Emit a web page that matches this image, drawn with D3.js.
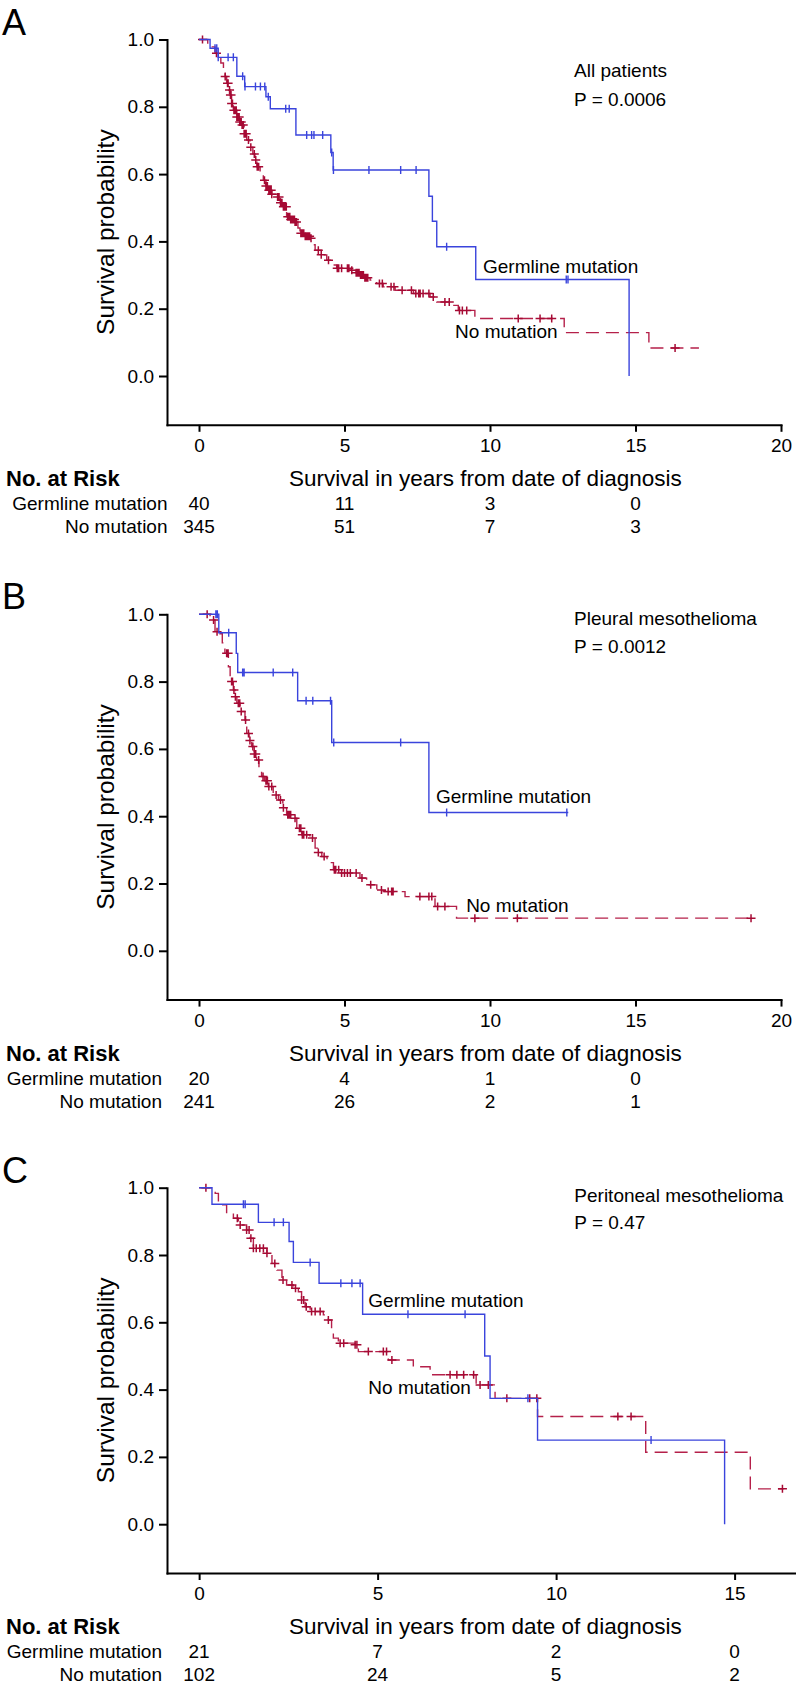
<!DOCTYPE html>
<html><head><meta charset="utf-8">
<script src="https://cdn.jsdelivr.net/npm/d3@7"></script>
<style>
body{margin:0;background:#fff;}
text{font-family:"Liberation Sans",Arial,sans-serif;fill:#000;}
</style></head><body>
<svg id="chart" width="796" height="1689"></svg>
<script>
// ---------------- DATA ----------------
const panelLetters = ["A", "B", "C"];
const panelTitles = ["All patients", "Pleural mesothelioma", "Peritoneal mesothelioma"];
const pValues = ["P = 0.0006", "P = 0.0012", "P = 0.47"];
const seriesNames = ["Germline mutation", "No mutation"];
const yTicks = [0, 0.2, 0.4, 0.6, 0.8, 1.0];
const xTicksAB = [0, 5, 10, 15, 20];
const xTicksC = [0, 5, 10, 15];
const riskTimes = [0, 5, 10, 15];
const riskTitle = "No. at Risk";
const xTitle = "Survival in years from date of diagnosis";
const yTitle = "Survival probability";

// Panel A – all patients
const germA = [[0,1],[0.38,0.974],[0.66,0.947],[1.30,0.891],[1.57,0.86],[2.30,0.83],[2.45,0.794],[3.33,0.716],[4.53,0.664],[4.61,0.612],[7.90,0.534],[8.02,0.46],[8.17,0.384],[9.51,0.287],[14.78,0]];
const germAEnd = 14.78;
const germACens = [0.55,0.61,0.66,1.0,1.18,1.5,1.58,1.94,2.11,2.26,2.38,2.98,3.1,3.70,3.87,3.95,4.25,4.56,4.62,5.84,6.93,7.46,8.51,12.62,12.68];
const noneA = [[0,1],[0.30,0.985],[0.38,0.978],[0.55,0.959],[0.67,0.947],[0.75,0.93],[0.84,0.914],[0.90,0.89],[0.95,0.87],[1.02,0.85],[1.07,0.835],[1.12,0.81],[1.18,0.79],[1.30,0.77],[1.40,0.755],[1.47,0.746],[1.55,0.72],[1.64,0.701],[1.75,0.68],[1.85,0.66],[1.92,0.642],[1.99,0.622],[2.10,0.60],[2.21,0.582],[2.30,0.565],[2.38,0.552],[2.50,0.54],[2.67,0.532],[2.80,0.515],[2.90,0.503],[3.01,0.473],[3.15,0.465],[3.30,0.458],[3.40,0.44],[3.47,0.424],[3.65,0.415],[3.81,0.409],[3.90,0.39],[3.99,0.374],[4.20,0.36],[4.39,0.344],[4.55,0.33],[4.73,0.32],[5.19,0.314],[5.40,0.307],[5.53,0.30],[5.70,0.292],[5.88,0.285],[6.10,0.275],[6.33,0.265],[6.74,0.255],[7.37,0.245],[7.94,0.235],[8.17,0.22],[8.63,0.21],[8.91,0.195],[9.48,0.171],[12.55,0.129],[15.46,0.083]];
const noneAEnd = 17.18;
const noneACens = [0.12,0.6,0.9,0.98,1.0,1.05,1.08,1.1,1.12,1.15,1.2,1.22,1.25,1.28,1.3,1.32,1.34,1.36,1.38,1.4,1.42,1.45,1.48,1.5,1.52,1.55,1.58,1.62,1.7,1.78,1.9,1.95,2.0,2.05,2.25,2.3,2.35,2.4,2.42,2.45,2.48,2.5,2.7,2.75,2.8,2.85,2.9,2.95,3.0,3.05,3.08,3.1,3.12,3.15,3.18,3.2,3.22,3.25,3.28,3.3,3.35,3.5,3.52,3.55,3.58,3.6,3.65,3.7,3.75,3.8,3.85,4.1,4.2,4.45,4.75,4.8,4.9,5.1,5.15,5.25,5.4,5.45,5.5,5.55,5.6,5.65,5.7,5.75,5.8,6.2,6.3,6.6,6.7,6.98,7.3,7.45,7.55,7.6,7.7,7.9,8.05,8.45,8.6,8.95,9.05,9.2,10.97,11.72,12.12,16.36];
const riskGermA = [40, 11, 3, 0];
const riskNoneA = [345, 51, 7, 3];

// Panel B – pleural
const germB = [[0,1],[0.68,0.945],[1.28,0.884],[1.33,0.827],[3.39,0.743],[4.56,0.619],[7.90,0.411]];
const germBEnd = 12.69;
const germBCens = [0.58,0.63,1.02,1.50,1.55,2.55,3.22,3.68,3.91,4.52,4.63,6.93,8.51,12.64];
const noneB = [[0,1],[0.38,0.983],[0.55,0.948],[0.72,0.942],[0.80,0.915],[0.89,0.884],[1.01,0.844],[1.07,0.815],[1.12,0.80],[1.18,0.775],[1.24,0.755],[1.30,0.736],[1.41,0.711],[1.58,0.686],[1.64,0.646],[1.72,0.625],[1.81,0.607],[1.90,0.585],[1.98,0.567],[2.06,0.54],[2.15,0.518],[2.25,0.505],[2.38,0.488],[2.55,0.463],[2.73,0.448],[2.88,0.425],[3.01,0.404],[3.24,0.394],[3.36,0.364],[3.53,0.345],[3.81,0.335],[3.99,0.305],[4.10,0.292],[4.22,0.28],[4.40,0.262],[4.62,0.241],[4.85,0.231],[5.53,0.216],[5.76,0.196],[6.11,0.181],[6.33,0.176],[7.08,0.161],[8.11,0.132],[8.85,0.097]];
const noneBEnd = 19.05;
const noneBCens = [0.28,0.5,0.62,0.95,1.0,1.12,1.15,1.2,1.25,1.35,1.4,1.45,1.6,1.7,1.75,1.85,1.9,1.95,2.05,2.2,2.3,2.35,2.4,2.5,2.65,2.8,2.9,3.05,3.1,3.15,3.3,3.45,3.5,3.55,3.6,3.7,3.9,4.1,4.3,4.65,4.7,4.8,4.9,5.0,5.1,5.2,5.4,5.6,5.9,6.27,6.5,6.62,6.67,7.59,7.9,8.0,8.2,8.45,9.48,10.94,18.97];
const riskGermB = [20, 4, 1, 0];
const riskNoneB = [241, 26, 2, 1];

// Panel C – peritoneal
const germC = [[0,1],[0.36,0.951],[1.66,0.897],[2.52,0.84],[2.64,0.778],[3.36,0.716],[4.58,0.624],[8.0,0.5],[8.15,0.374],[9.48,0.25],[14.72,0]];
const germCEnd = 14.72;
const germCCens = [1.24,1.29,2.10,2.36,3.11,3.97,4.28,4.51,5.85,7.45,9.21,12.66];
const noneC = [[0,1],[0.45,0.983],[0.54,0.958],[0.63,0.949],[0.77,0.924],[0.96,0.909],[1.10,0.889],[1.33,0.874],[1.43,0.85],[1.52,0.82],[1.90,0.805],[2.04,0.775],[2.18,0.755],[2.32,0.726],[2.45,0.711],[2.64,0.701],[2.78,0.691],[2.87,0.666],[2.97,0.646],[3.11,0.632],[3.48,0.622],[3.62,0.607],[3.71,0.582],[3.76,0.553],[3.90,0.538],[4.37,0.533],[4.46,0.513],[5.30,0.488],[6.0,0.468],[6.47,0.444],[7.76,0.414],[8.29,0.374],[9.48,0.32],[12.51,0.214],[15.44,0.105]];
const noneCEnd = 16.37;
const noneCCens = [0.19,1.07,1.15,1.33,1.4,1.45,1.52,1.6,1.7,1.8,1.9,2.12,2.35,2.6,2.7,2.87,2.93,3.0,3.15,3.25,3.39,3.62,3.95,4.05,4.37,4.42,4.74,5.16,5.25,5.4,7.03,7.22,7.41,7.69,7.87,8.1,8.62,9.26,9.46,11.73,12.1,16.34];
const riskGermC = [21, 7, 2, 0];
const riskNoneC = [102, 24, 5, 2];

// ---------------- LAYOUT ----------------
const BLUE = "#3a44dc", RED = "#b5204a", RED_MARK = "#a60a34";
const UNIT = 336.5, YMIN = -0.145, AXIS_X = 167;
const panels = [
  {top: 39.5, xDom: [-1.1, 20], xR: 781, ticks: xTicksAB, rowRight: 167.5,
   germ: germA, germEnd: germAEnd, germC: germACens, none: noneA, noneEnd: noneAEnd, noneC: noneACens,
   rg: riskGermA, rn: riskNoneA, info: [12.89, 0.888, 0.802], gl: [9.76, 0.305], nl: [8.80, 0.112]},
  {top: 614.3, xDom: [-1.1, 20], xR: 781, ticks: xTicksAB, rowRight: 162,
   germ: germB, germEnd: germBEnd, germC: germBCens, none: noneB, noneEnd: noneBEnd, noneC: noneBCens,
   rg: riskGermB, rn: riskNoneB, info: [12.89, 0.968, 0.884], gl: [8.14, 0.439], nl: [9.18, 0.114]},
  {top: 1187.7, xDom: [-0.9, 16.72], xR: 796, ticks: xTicksC, rowRight: 162,
   germ: germC, germEnd: germCEnd, germC: germCCens, none: noneC, noneEnd: noneCEnd, noneC: noneCCens,
   rg: riskGermC, rn: riskNoneC, info: [10.51, 0.958, 0.876], gl: [4.74, 0.646], nl: [4.74, 0.387]}
];

const svg = d3.select("#chart");

function survAt(steps, t) {
  let s = steps[0][1];
  for (const p of steps) { if (p[0] <= t) s = p[1]; else break; }
  return s;
}

panels.forEach((p, i) => {
  const g = svg.append("g");
  const x = d3.scaleLinear().domain(p.xDom).range([AXIS_X, p.xR]);
  const y = d3.scaleLinear().domain([YMIN, 1]).range([p.top + UNIT * (1 - YMIN), p.top]);
  const axisY = y(YMIN);

  // panel letter
  g.append("text").attr("x", 2).attr("y", p.top - 5).attr("font-size", 36).text(panelLetters[i]);

  // axes
  const ya = g.append("g").attr("transform", `translate(${AXIS_X},0)`)
    .call(d3.axisLeft(y).tickValues(yTicks).tickFormat(d3.format(".1f")).tickSize(8).tickPadding(5).tickSizeOuter(0));
  const xa = g.append("g").attr("transform", `translate(0,${axisY})`)
    .call(d3.axisBottom(x).tickValues(p.ticks).tickFormat(d3.format("d")).tickSize(7).tickPadding(7).tickSizeOuter(0));
  [ya, xa].forEach(a => {
    a.select(".domain").attr("stroke", "#000").attr("stroke-width", 2).attr("stroke-linecap", "square");
    a.selectAll(".tick line").attr("stroke", "#000").attr("stroke-width", 2);
    a.selectAll(".tick text").attr("font-size", 19).attr("font-family", "Liberation Sans, Arial, sans-serif").attr("fill", "#000");
  });

  // y title
  const yc = (y(1) + axisY) / 2;
  g.append("text").attr("transform", `translate(114,${yc}) rotate(-90)`)
    .attr("text-anchor", "middle").attr("font-size", 24.5).text(yTitle);

  // curves
  const line = d3.line().x(d => x(d[0])).y(d => y(d[1])).curve(d3.curveStepAfter);
  const nonePts = p.none.concat([[p.noneEnd, p.none[p.none.length - 1][1]]]);
  const germPts = p.germ.concat([[p.germEnd, p.germ[p.germ.length - 1][1]]]);

  g.append("path").attr("d", line(nonePts)).attr("fill", "none").attr("stroke", RED)
    .attr("stroke-width", 1.4).attr("stroke-dasharray", "13,7");
  g.append("path").attr("d", p.noneC.map(t => {
      const cx = x(t), cy = y(survAt(p.none, t));
      return `M${cx - 4.5},${cy}H${cx + 4.5}M${cx},${cy - 4}V${cy + 4}`;
    }).join("")).attr("stroke", RED_MARK).attr("stroke-width", 1.5).attr("fill", "none");

  g.append("path").attr("d", line(germPts)).attr("fill", "none").attr("stroke", BLUE).attr("stroke-width", 1.4);
  g.append("path").attr("d", p.germC.map(t => {
      const cx = x(t), cy = y(survAt(p.germ, t));
      return `M${cx},${cy - 4}V${cy + 4}`;
    }).join("")).attr("stroke", BLUE).attr("stroke-width", 1.4).attr("fill", "none");

  // annotations
  g.append("text").attr("x", x(p.info[0])).attr("y", y(p.info[1])).attr("font-size", 19).text(panelTitles[i]);
  g.append("text").attr("x", x(p.info[0])).attr("y", y(p.info[2])).attr("font-size", 19).text(pValues[i]);
  g.append("text").attr("x", x(p.gl[0])).attr("y", y(p.gl[1])).attr("font-size", 19).text(seriesNames[0]);
  g.append("text").attr("x", x(p.nl[0])).attr("y", y(p.nl[1])).attr("font-size", 19).text(seriesNames[1]);

  // risk table
  g.append("text").attr("x", 6).attr("y", axisY + 61.5).attr("font-size", 22).attr("font-weight", "bold").text(riskTitle);
  g.append("text").attr("x", 289).attr("y", axisY + 61.5).attr("font-size", 22.5).text(xTitle);
  [[p.rg, 85], [p.rn, 108.5]].forEach(([vals, off], r) => {
    g.append("text").attr("x", p.rowRight).attr("y", axisY + off).attr("text-anchor", "end")
      .attr("font-size", 19).text(seriesNames[r]);
    g.selectAll(null).data(vals).enter().append("text")
      .attr("x", (d, k) => x(riskTimes[k])).attr("y", axisY + off)
      .attr("text-anchor", "middle").attr("font-size", 19).text(d => d);
  });
});
</script>
</body></html>
